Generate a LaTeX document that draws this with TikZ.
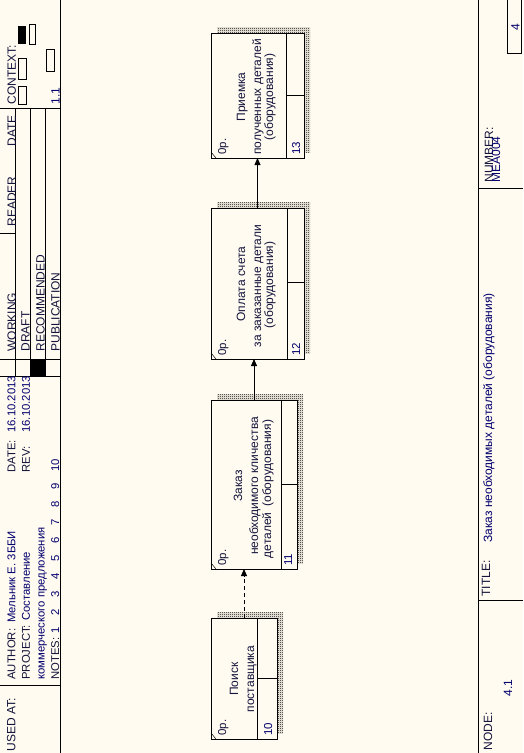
\documentclass[tikz,border=0pt]{standalone}
\usepackage{fontspec}
\setmainfont{Liberation Sans}
\usetikzlibrary{arrows.meta,patterns}
\definecolor{bg}{RGB}{255,251,240}
\definecolor{txt}{RGB}{0,0,110}
\definecolor{lab}{RGB}{20,20,60}
\pgfdeclarepatternformonly{checker}{\pgfpointorigin}{\pgfpoint{2pt}{2pt}}{\pgfpoint{2pt}{2pt}}{%
 \pgfpathrectangle{\pgfpointorigin}{\pgfpoint{1pt}{1pt}}%
 \pgfpathrectangle{\pgfpoint{1pt}{1pt}}{\pgfpoint{1pt}{1pt}}%
 \pgfusepath{fill}}
\newcommand\uowbox[7]{%
 \fill[pattern=checker, pattern color=black] (#2+6,#3-6) rectangle (#4+6,#5-6);
 \node[uow, minimum width={#4-#2}, minimum height={#5-#3}, anchor=north west] (#1) at (#2,#3) {};
 \draw (#6,#3) -- (#6,#5);
 \draw (#6,#7) -- (#4,#7);
 \draw[line width=0.5pt] (#2,#5-6) -- (#2+5,#5);
 \node[sm] at (226,#5-3) {0р.};
}
\begin{document}
\begin{tikzpicture}[x=1pt,y=-1pt,line width=0.8pt,
 lbl/.style={rotate=90,anchor=base west,inner sep=0pt,text=lab,font=\fontsize{12}{12}\selectfont},
 val/.style={lbl,text=txt},
 lbs/.style={lbl,font=\fontsize{11.3}{11.3}\selectfont},
 vls/.style={lbs,text=txt},
 sm/.style={rotate=90,anchor=base west,inner sep=0pt,text=lab,font=\fontsize{11.5}{11.5}\selectfont},
 num/.style={sm,text=txt},
 bt/.style={rotate=90,anchor=base,inner sep=0pt,text=lab,font=\fontsize{12}{12}\selectfont},
 uow/.style={draw,fill=bg,inner sep=0pt,outer sep=0pt,rectangle},
 arr/.style={-{Triangle[length=7pt,width=6pt]}}]
\fill[bg] (0,0) rectangle (523,753);
\useasboundingbox (0,0) rectangle (523,753);
% ---------- left header ----------
\draw (60.5,0) -- (60.5,753);
\draw (0,108.5) -- (60.5,108.5);
\draw (0,233.5) -- (15.5,233.5);
\draw (0,359.5) -- (60.5,359.5);
\draw (0,376.5) -- (60.5,376.5);
\draw (0,685.5) -- (60.5,685.5);
\foreach \xx in {15.5,30.5,45.5} \draw (\xx,108.5) -- (\xx,376.5);
\fill[black] (30.5,359.5) rectangle (45.5,376.5);
% context thumbnail
\fill[black] (18,26) rectangle (26,44);
\draw (29.5,24.5) rectangle (35.5,44.5);
\draw (18.5,58.5) rectangle (26.5,79.5);
\draw (18.5,86.5) rectangle (26.5,104.5);
\draw (46.5,49.5) rectangle (54.5,71.5);
\node[lbl] (ctx) at (16,105) {CONTEXT:};
\node[val] (ctxn) at (59.5,105) {1.1};
\node[lbl] (hdate) at (16,147) {DATE};
\node[lbl] (reader) at (16,227) {READER};
\node[lbl] (working) at (16,352) {WORKING};
\node[lbl] (draft) at (29.5,352) {DRAFT};
\node[lbl] (recom) at (44.5,352) {RECOMMENDED};
\node[lbl] (publ) at (59.5,352) {PUBLICATION};
\node[lbl] (usedat) at (15.5,752) {USED AT:};
\node[lbs] (author) at (15.5,680) {AUTHOR:};
\node[vls] (authorv) at (15.5,623) {Мельник Е. 3ББИ};
\node[lbs] (date) at (15.5,473) {DATE:};
\node[vls] (datev) at (15.5,433) {16.10.2013};
\node[lbs] (project) at (30,680) {PROJECT:};
\node[vls] (projectv) at (30,621) {Составление};
\node[lbs] (rev) at (30,473) {REV:};
\node[vls] (revv) at (30,433) {16.10.2013};
\node[vls] (projectv2) at (44.5,680) {коммерческого предложения};
\node[lbs] (notes) at (59,680) {NOTES:};
\foreach \d [count=\i from 0] in {1,2,3,4,5,6,7,8,9,10}
  \node[vls] (n\d) at (59,634-18*\i) {\d};
% ---------- right footer ----------
\draw (478.5,0) -- (478.5,753);
\draw (478.5,188.5) -- (523,188.5);
\draw (478.5,600.5) -- (523,600.5);
\draw (507.5,0) -- (507.5,53.5) -- (521.5,53.5) -- (521.5,0);
\node[lbl] (node) at (492,751) {NODE:};
\node[val] (nodev) at (512,697) {4.1};
\node[lbl] (title) at (490,597) {TITLE:};
\node[val] (titlev) at (492,543) {Заказ необходимых деталей (оборудования)};
\node[lbl] (number) at (493,183) {NUMBER:};
\node[val] (numberv) at (500,183) {MEA004};
\node[val] (page) at (519.5,31) {4};
% ---------- units of work ----------
\uowbox{b1}{211}{618}{277}{739}{257}{678}
\node[num] at (272,736) {10};
\node[bt] at (238,679) {Поиск};
\node[bt] at (254,679) {поставщика};
\uowbox{b2}{211}{400}{297}{569}{281}{484}
\node[num] at (292,566) {11};
\node[bt] at (242,486) {Заказ};
\node[bt] at (258,486) {необходимого кличества};
\node[bt] at (271,489) {деталей\hspace{6pt}(оборудования)};
\uowbox{b3}{211}{208}{304}{359}{287}{282}
\node[num] at (300,356) {12};
\node[bt] at (245,284) {Оплата счета};
\node[bt] at (261,286) {за заказанные детали};
\node[bt] at (273,285) {(оборудования)};
\uowbox{b4}{211}{33}{304}{158}{286}{95}
\node[num] at (300,155) {13};
\node[bt] at (245,97) {Приемка};
\node[bt] at (261,97) {полученных деталей};
\node[bt] at (273,97) {(оборудования)};
% ---------- links ----------
\draw[arr,dash pattern=on 4pt off 3pt] (b1.north) -- (b1.north |- b2.south);
\draw[arr] (b2.north) -- (b2.north |- b3.south);
\draw[arr] (b3.north) -- (b3.north |- b4.south);
\end{tikzpicture}
\end{document}
